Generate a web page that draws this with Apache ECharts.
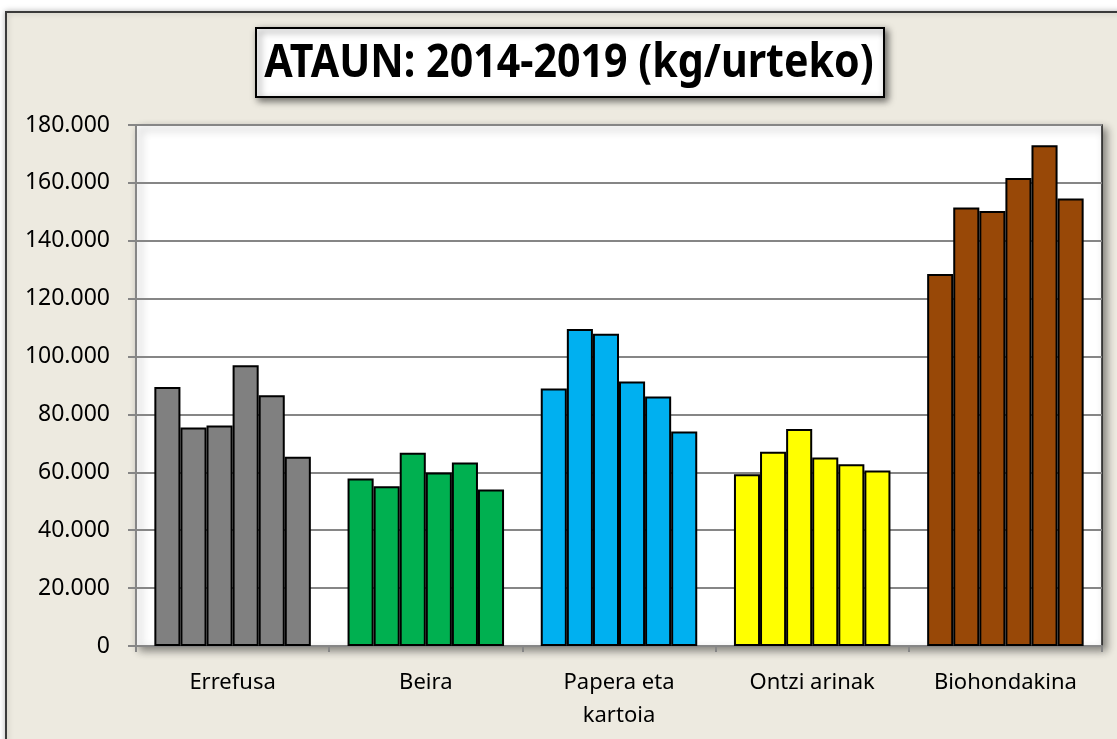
<!DOCTYPE html>
<html>
<head>
<meta charset="utf-8">
<script src="https://cdn.jsdelivr.net/npm/echarts@6/dist/echarts.min.js"></script>
<style>
  html, body { margin: 0; padding: 0; background: #ffffff; }
  #chart { width: 1117px; height: 739px; }
</style>
</head>
<body>
<div id="chart"></div>
<script>
// ---- data ----
const titleText = 'ATAUN: 2014-2019 (kg/urteko)';
const categories = ['Errefusa', 'Beira', 'Papera eta\nkartoia', 'Ontzi arinak', 'Biohondakina'];
const years = ['2014', '2015', '2016', '2017', '2018', '2019'];
const v2014 = [89500, 57900, 89000, 59300, 128500];
const v2015 = [75500, 55200, 109500, 67100, 151500];
const v2016 = [76200, 66800, 107900, 75000, 150300];
const v2017 = [97000, 59900, 91400, 65100, 161700];
const v2018 = [86600, 63400, 86200, 62800, 173000];
const v2019 = [65400, 54100, 74100, 60600, 154600];
const yMin = 0;
const yMax = 180000;
const yStep = 20000;
const categoryColors = ['#808080', '#00B050', '#00B0F0', '#FFFF00', '#984807'];

const seriesValues = [v2014, v2015, v2016, v2017, v2018, v2019];

function fmt(v) {
  return String(v).replace(/\B(?=(\d{3})+(?!\d))/g, '.');
}

const labelFont = "'Noto Sans', 'Open Sans', sans-serif";

const chart = echarts.init(document.getElementById('chart'), null, { renderer: 'canvas' });

const series = years.map((y, i) => ({
  name: y,
  type: 'bar',
  data: seriesValues[i],
  barGap: '0%',
  barCategoryGap: '19%',
  itemStyle: {
    color: (p) => categoryColors[p.dataIndex],
    borderColor: '#000000',
    borderWidth: 2
  },
  emphasis: { disabled: true },
  z: 3
}));

chart.setOption({
  backgroundColor: 'transparent',
  animation: false,
  graphic: [
    {
      type: 'rect',
      z: -10,
      shape: { x: 6, y: 12, width: 1200, height: 800 },
      style: {
        fill: '#EDEAE0',
        stroke: '#3a3a3a',
        lineWidth: 2,
        shadowBlur: 6,
        shadowColor: 'rgba(0,0,0,0.25)'
      }
    },
    {
      type: 'rect',
      z: 20,
      shape: { x: 256, y: 28, width: 628, height: 69 },
      style: {
        fill: '#ffffff',
        stroke: '#000000',
        lineWidth: 2,
        shadowBlur: 7,
        shadowColor: 'rgba(0,0,0,0.55)',
        shadowOffsetX: 3,
        shadowOffsetY: 3
      }
    },
    {
      type: 'text',
      z: 30,
      x: 569,
      y: 64,
      scaleX: 0.895,
      style: {
        text: titleText,
        font: "bold 46px 'Noto Sans', sans-serif",
        fill: '#000000',
        align: 'center',
        verticalAlign: 'middle'
      }
    }
  ],
  grid: {
    left: 136,
    right: 15,
    top: 125,
    bottom: 93,
    show: true,
    backgroundColor: '#ffffff',
    borderColor: '#1a1a1a',
    borderWidth: 1.5,
    shadowBlur: 8,
    shadowColor: 'rgba(0,0,0,0.45)',
    shadowOffsetX: 4,
    shadowOffsetY: 4
  },
  xAxis: {
    type: 'category',
    data: categories,
    boundaryGap: true,
    axisLine: { show: true, lineStyle: { color: '#868686', width: 2 } },
    axisTick: { show: true, length: 6, lineStyle: { color: '#868686', width: 2 } },
    axisLabel: {
      color: '#000000',
      fontFamily: labelFont,
      fontSize: 22,
      lineHeight: 33,
      margin: 20,
      interval: 0
    },
    splitLine: { show: false }
  },
  yAxis: {
    type: 'value',
    min: yMin,
    max: yMax,
    interval: yStep,
    axisLine: { show: true, lineStyle: { color: '#868686', width: 2 } },
    axisTick: { show: true, length: 8, lineStyle: { color: '#868686', width: 2 } },
    axisLabel: {
      color: '#000000',
      fontFamily: labelFont,
      fontSize: 23,
      margin: 26,
      formatter: (v) => fmt(v)
    },
    splitLine: { show: true, lineStyle: { color: '#868686', width: 2 } }
  },
  tooltip: { show: false },
  series: series
});
</script>
</body>
</html>
